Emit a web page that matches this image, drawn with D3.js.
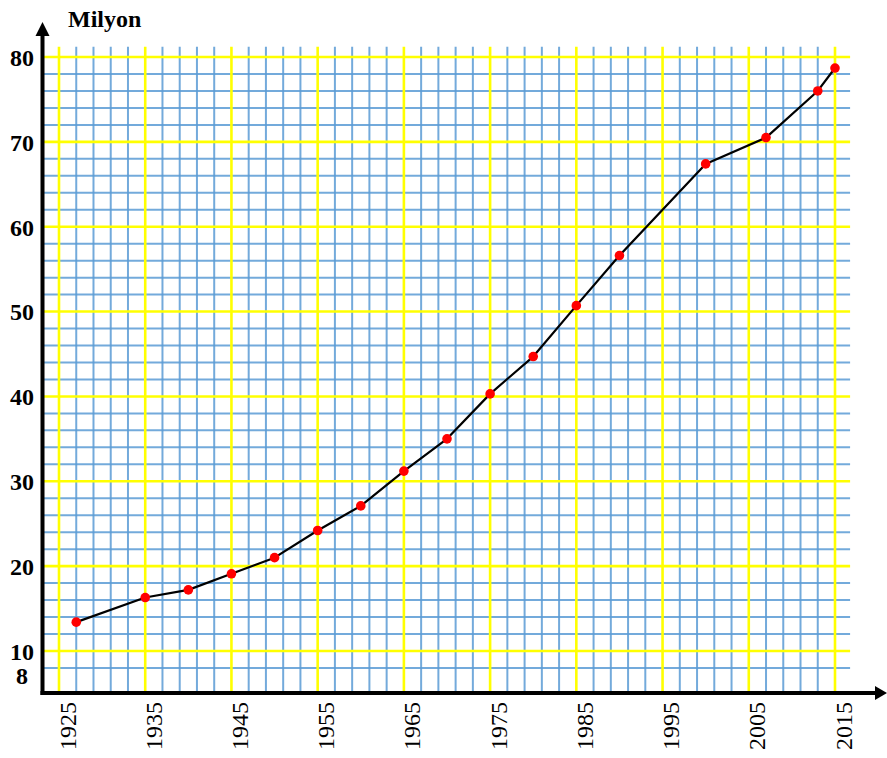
<!DOCTYPE html>
<html>
<head>
<meta charset="utf-8">
<script src="https://cdn.jsdelivr.net/npm/d3@7"></script>
<style>
  html, body { margin: 0; padding: 0; background: #ffffff; }
  svg { display: block; }
  svg text { font-family: "Liberation Serif", "DejaVu Serif", "Times New Roman", serif; }
</style>
</head>
<body>
<script>
// ---- data ----
const years = [1927, 1935, 1940, 1945, 1950, 1955, 1960, 1965, 1970, 1975, 1980, 1985, 1990, 2000, 2007, 2013, 2015];
const population = [13.4, 16.3, 17.2, 19.1, 21.0, 24.2, 27.1, 31.2, 35.0, 40.3, 44.7, 50.7, 56.6, 67.4, 70.5, 76.0, 78.7];
const xTickLabels = [1925, 1935, 1945, 1955, 1965, 1975, 1985, 1995, 2005, 2015];
const yTickLabels = [80, 70, 60, 50, 40, 30, 20, 10, 8];
const yTitle = "Milyon";

// ---- layout ----
const W = 887, H = 758;
const axisX = 42.5, axisY = 693;
const FONT = "Liberation Serif, DejaVu Serif, Times New Roman, serif";

const x = d3.scaleLinear().domain([1925, 2015]).range([59, 835]);
const y = d3.scaleLinear().domain([10, 80]).range([651, 57]);

const svg = d3.select("body").append("svg")
  .attr("width", W).attr("height", H)
  .style("background", "#fff");

// grid
const gridYears = d3.range(1925, 2016, 2);
const gridVals = d3.range(8, 81, 2);
const gridTop = y(81.2);
const gridRight = x(2016.75);

const blueColor = "#5b9bd5";
const yellowColor = "#ffff00";

const grid = svg.append("g");
grid.selectAll("line.bv").data(gridYears.filter(d => (d - 1925) % 10 !== 0)).join("line")
  .attr("class", "bv")
  .attr("x1", d => x(d)).attr("x2", d => x(d))
  .attr("y1", gridTop).attr("y2", axisY)
  .attr("stroke", blueColor).attr("stroke-width", 2).attr("stroke-opacity", 0.85);
grid.selectAll("line.bh").data(gridVals.filter(d => d % 10 !== 0)).join("line")
  .attr("class", "bh")
  .attr("x1", axisX).attr("x2", gridRight)
  .attr("y1", d => y(d)).attr("y2", d => y(d))
  .attr("stroke", blueColor).attr("stroke-width", 2).attr("stroke-opacity", 0.85);
grid.selectAll("line.yv").data(gridYears.filter(d => (d - 1925) % 10 === 0)).join("line")
  .attr("class", "yv")
  .attr("x1", d => x(d)).attr("x2", d => x(d))
  .attr("y1", gridTop).attr("y2", axisY)
  .attr("stroke", yellowColor).attr("stroke-width", 2.6);
grid.selectAll("line.yh").data(gridVals.filter(d => d % 10 === 0)).join("line")
  .attr("class", "yh")
  .attr("x1", axisX).attr("x2", gridRight)
  .attr("y1", d => y(d)).attr("y2", d => y(d))
  .attr("stroke", yellowColor).attr("stroke-width", 2.6);

// data line
const pts = years.map((yr, i) => ({ yr, v: population[i] }));
svg.append("path")
  .datum(pts)
  .attr("fill", "none")
  .attr("stroke", "#000")
  .attr("stroke-width", 2.2)
  .attr("stroke-linejoin", "round")
  .attr("d", d3.line().x(d => x(d.yr)).y(d => y(d.v)));

svg.append("g").selectAll("circle").data(pts).join("circle")
  .attr("cx", d => x(d.yr)).attr("cy", d => y(d.v))
  .attr("r", 4.8)
  .attr("fill", "#ff0000");

// axes lines with arrows
svg.append("line")
  .attr("x1", axisX).attr("x2", axisX)
  .attr("y1", axisY + 2).attr("y2", 32)
  .attr("stroke", "#000").attr("stroke-width", 4);
svg.append("path")
  .attr("d", `M${axisX},22 L${axisX - 7},36 L${axisX + 7},36 Z`)
  .attr("fill", "#000");
svg.append("line")
  .attr("x1", axisX - 2).attr("x2", 878)
  .attr("y1", axisY).attr("y2", axisY)
  .attr("stroke", "#000").attr("stroke-width", 4);
svg.append("path")
  .attr("d", `M887,${axisY} L875,${axisY - 7} L875,${axisY + 7} Z`)
  .attr("fill", "#000");

// x axis labels
const xAxis = svg.append("g")
  .attr("transform", `translate(0,${axisY})`)
  .call(d3.axisBottom(x).tickValues(xTickLabels).tickSize(0).tickFormat(d3.format("d")));
xAxis.attr("font-family", FONT).attr("font-size", 24);
xAxis.select(".domain").remove();
xAxis.selectAll("text")
  .attr("y", 0).attr("dy", 0)
  .attr("transform", "translate(16,9) rotate(-90)")
  .attr("text-anchor", "end")
  .attr("fill", "#000")
  .attr("font-family", FONT)
  .attr("font-size", 24);

// y axis labels
const yAxis = svg.append("g")
  .attr("transform", `translate(${axisX},0)`)
  .call(d3.axisLeft(y).tickValues(yTickLabels).tickSize(0).tickFormat(d3.format("d")));
yAxis.attr("font-family", FONT).attr("font-size", 24);
yAxis.select(".domain").remove();
yAxis.selectAll("text")
  .attr("x", 22 - axisX)
  .attr("dy", d => d === 8 ? "0.64em" : "0.35em")
  .attr("text-anchor", "middle")
  .attr("fill", "#000")
  .attr("font-family", FONT)
  .attr("font-weight", "bold")
  .attr("font-size", 24);

// title
svg.append("text")
  .attr("x", 68).attr("y", 27)
  .attr("fill", "#000")
  .attr("font-family", FONT)
  .attr("font-weight", "bold")
  .attr("font-size", 24)
  .text(yTitle);
</script>
</body>
</html>
